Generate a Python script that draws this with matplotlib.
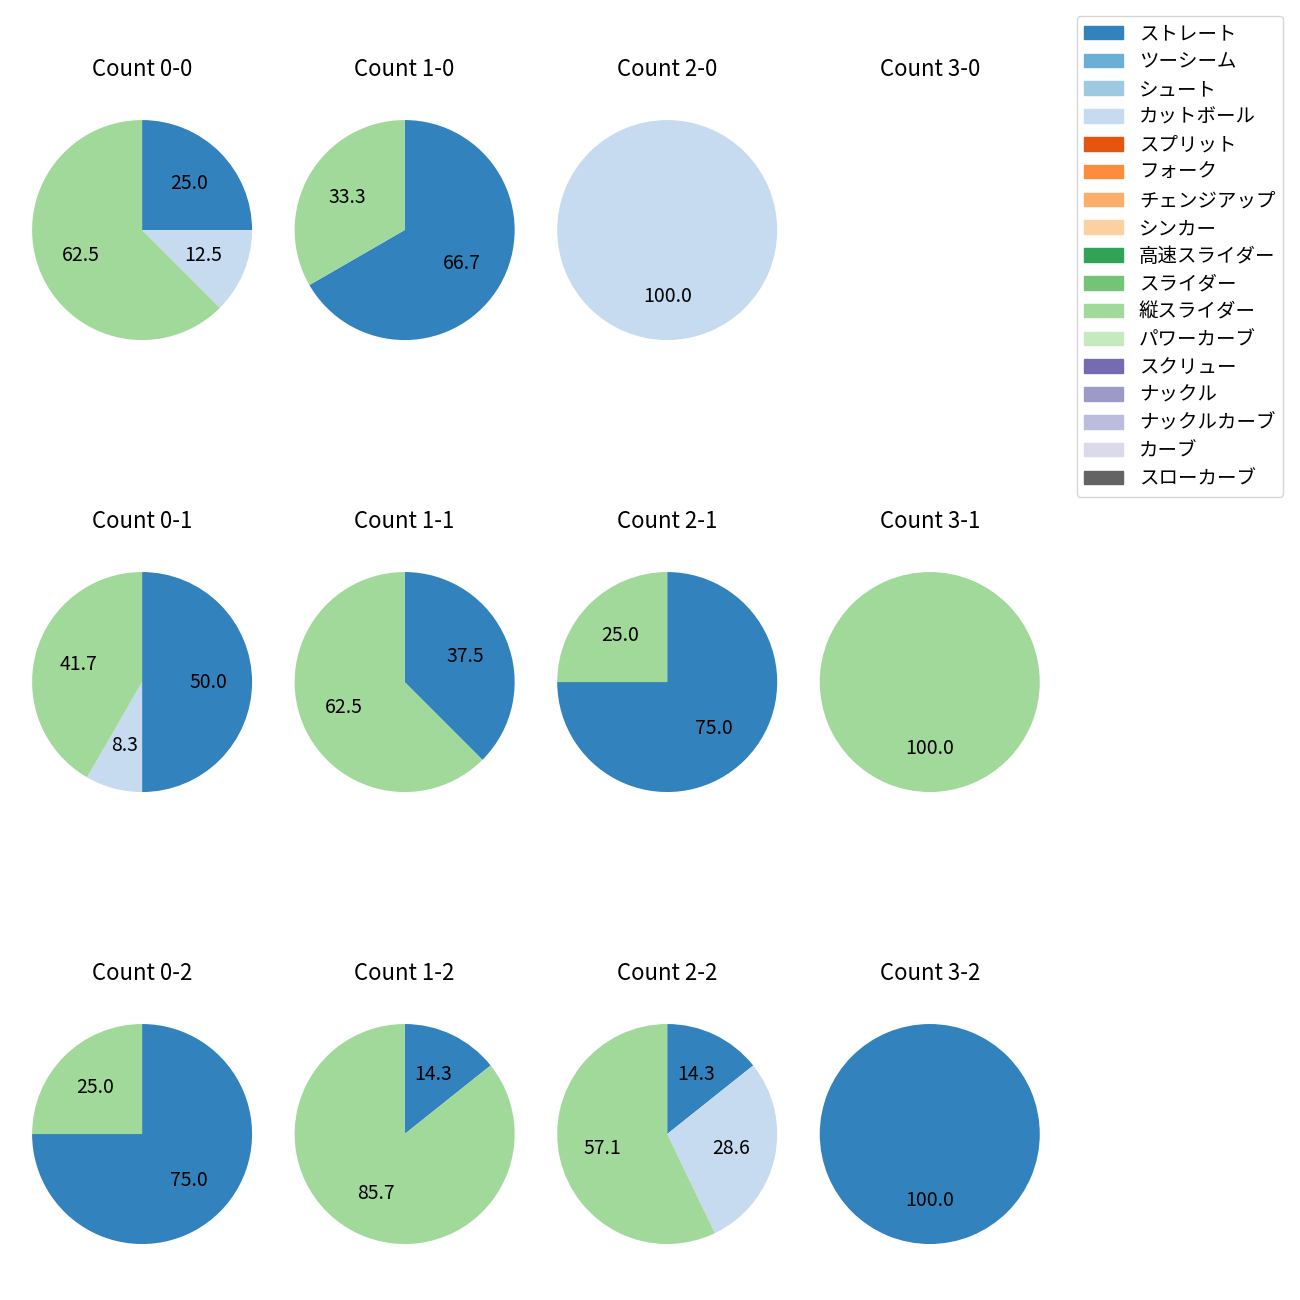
import numpy as np
import matplotlib

matplotlib.use('Agg')
import matplotlib.pyplot as plt
from matplotlib.patches import Patch

plt.rcParams['font.family'] = ['Noto Sans CJK JP', 'DejaVu Sans']

# pitch types, in legend order
pitch_types = ['ストレート', 'ツーシーム', 'シュート', 'カットボール', 'スプリット', 'フォーク',
               'チェンジアップ', 'シンカー', '高速スライダー', 'スライダー', '縦スライダー',
               'パワーカーブ', 'スクリュー', 'ナックル', 'ナックルカーブ', 'カーブ', 'スローカーブ']

# pitch counts per ball-strike count: (straight, cutball, vertical slider)
counts = ['0-0', '1-0', '2-0', '3-0',
          '0-1', '1-1', '2-1', '3-1',
          '0-2', '1-2', '2-2', '3-2']
straight = [2, 2, 0, 0, 6, 3, 3, 0, 3, 1, 1, 1]
cutball = [1, 0, 1, 0, 1, 0, 0, 0, 0, 0, 2, 0]
vslider = [5, 1, 0, 0, 5, 5, 1, 1, 1, 6, 4, 0]

colors = [plt.cm.tab20c(i) for i in range(len(pitch_types))]

fig, axes = plt.subplots(3, 4, figsize=(13, 13), dpi=100)
fig.subplots_adjust(left=0.0035, right=0.821, top=0.9288, bottom=0.0219,
                    wspace=-0.0455, hspace=0.6436)

for ax, label, s, c, v in zip(axes.flat, counts, straight, cutball, vslider):
    ax.set_title(f'Count {label}', fontsize=16, pad=12)
    vals = np.zeros(len(pitch_types))
    vals[pitch_types.index('ストレート')] = s
    vals[pitch_types.index('カットボール')] = c
    vals[pitch_types.index('縦スライダー')] = v
    if vals.sum() == 0:
        ax.axis('off')
        continue
    idx = [i for i in range(len(vals)) if vals[i] > 0]
    ax.pie(vals[idx], colors=[colors[i] for i in idx], autopct='%.1f',
           startangle=90, counterclock=False, textprops={'fontsize': 14})
    ax.set_aspect('equal')

handles = [Patch(color=colors[i], label=pitch_types[i]) for i in range(len(pitch_types))]
fig.legend(handles=handles, loc='upper right', bbox_to_anchor=(0.987, 0.988),
           borderaxespad=0, fontsize=14, labelspacing=0.35)

plt.savefig('out.png', dpi=100)
